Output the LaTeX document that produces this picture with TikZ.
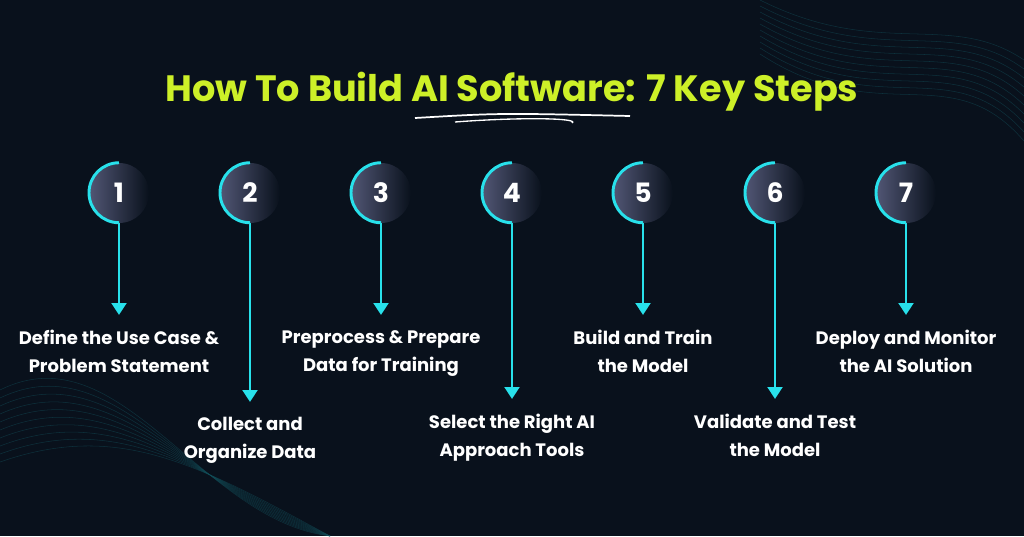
\documentclass[tikz,border=0pt]{standalone}
\usepackage{fontspec}
\setmainfont{Poppins}
\usetikzlibrary{arrows.meta,positioning}
\definecolor{bgdark}{RGB}{9,17,28}
\definecolor{stepcyan}{RGB}{40,225,235}
\definecolor{titlegreen}{RGB}{205,240,40}
\definecolor{navy}{RGB}{38,44,82}
\tikzset{
  numball/.style={circle, minimum size=45pt, inner sep=0pt, left color=navy!80!white, right color=bgdark, text=white, font=\fontsize{20}{22}\selectfont\bfseries},
  steplabel/.style={text=white, align=center, font=\fontsize{13.5}{21}\selectfont\bfseries},
  stemline/.style={stepcyan, line width=2.2pt, -{Triangle[length=9pt,width=11pt]}}
}
\begin{document}
\begin{tikzpicture}[x=0.75pt,y=-0.75pt]
    % Sfondo
    \fill[bgdark] (0,0) rectangle (1024,536);
    \useasboundingbox (0,0) rectangle (1024,536);
    % Linee decorative
    \foreach \k in {0,...,9}{
        \draw[stepcyan!30!bgdark, opacity=0.5] (0,{390+\k*8}) .. controls (120,{330+\k*10}) and (200,{520-\k*6}) .. (330,{536});
        \draw[stepcyan!30!bgdark, opacity=0.5] (760,{0+\k*6}) .. controls (880,{60+\k*8}) and (950,{10+\k*5}) .. (1024,{60+\k*9});
    }

    % Titolo
    \node[font=\fontsize{27.5}{30}\selectfont\bfseries, text=titlegreen] (title) at (512,92)
        {How To Build AI Software: 7 Key Steps};
    \draw[white, line width=1.3pt] (415,118) .. controls (500,113) .. (630,116);
    \draw[white, line width=1pt] (455,122) .. controls (520,117) and (580,118) .. (572,123);

    % Passi
    \foreach \i/\x/\y/\txt in {
        1/119/315/{Define the Use Case \&\\Problem Statement},
        2/250/402/{Collect and\\Organize Data},
        3/381/315/{Preprocess \& Prepare\\Data for Training},
        4/512/399/{Select the Right AI\\Approach Tools},
        5/643/315/{Build and Train\\the Model},
        6/775/399/{Validate and Test\\the Model},
        7/906/315/{Deploy and Monitor\\the AI Solution}}{
        \node[numball] (ball\i) at (\x,193) {\i};
        \coordinate (tip\i) at (\x,\y);
        \draw[stepcyan, line width=2.2pt] (ball\i.north) arc (-90:-270:30);
        \draw[stemline] (ball\i.south) -- (tip\i);
        \node[steplabel, below=8pt of tip\i] (label\i) {\txt};
    }
\end{tikzpicture}
\end{document}
